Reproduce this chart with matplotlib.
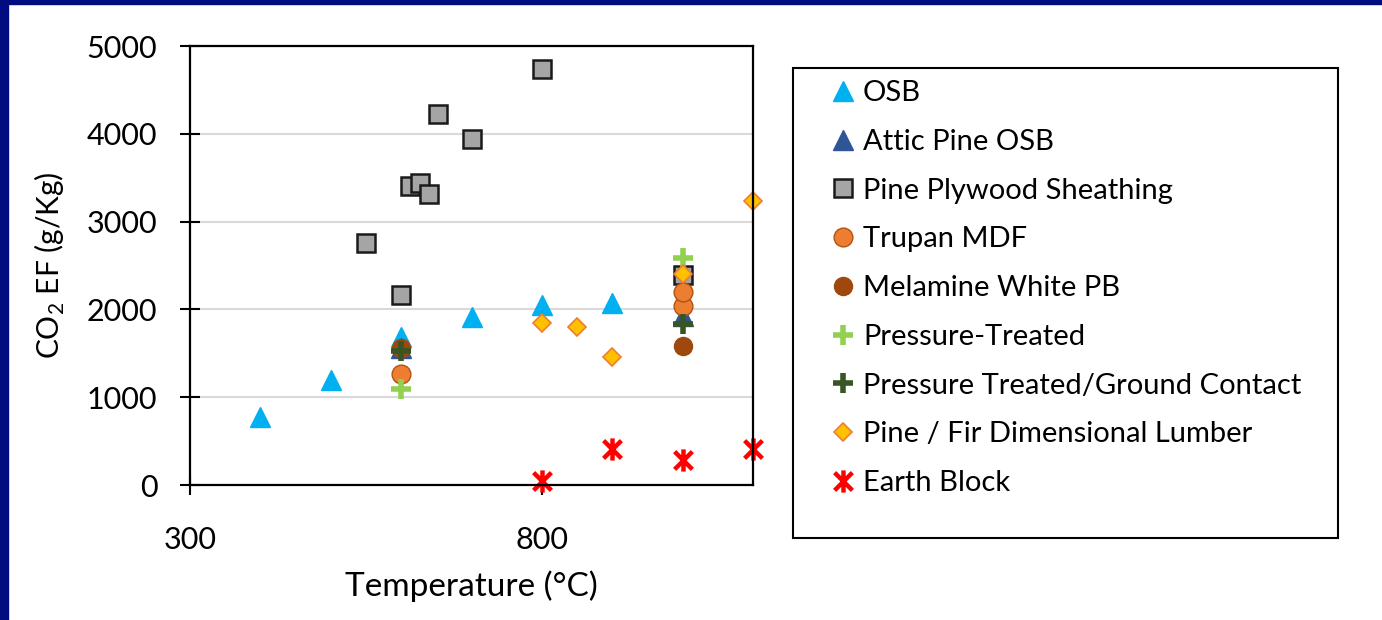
import matplotlib
matplotlib.use("Agg")
import matplotlib.pyplot as plt
from matplotlib.path import Path
from matplotlib.patches import Rectangle

plt.rcParams['font.family'] = ['Lato', 'DejaVu Sans']
plt.rcParams['mathtext.fontset'] = 'custom'
plt.rcParams['mathtext.rm'] = 'Lato'

# data (temperature in C, CO2 EF in g/kg)
osb_x = [400, 500, 600, 700, 800, 900]
osb_y = [780, 1200, 1690, 1915, 2050, 2070]
attic_x = [600, 1000]
attic_y = [1560, 1930]
plywood_x = [550, 600, 612, 627, 640, 653, 700, 800, 1000]
plywood_y = [2760, 2160, 3400, 3440, 3310, 4220, 3940, 4740, 2390]
trupan_x = [600, 1000, 1000]
trupan_y = [1270, 2040, 2200]
melamine_x = [600, 1000]
melamine_y = [1560, 1585]
pt_x = [600, 1000]
pt_y = [1095, 2585]
ptgc_x = [600, 1000]
ptgc_y = [1530, 1835]
lumber_x = [800, 850, 900, 1000, 1100]
lumber_y = [1840, 1800, 1455, 2400, 3230]
earth_x = [800, 900, 1000, 1100]
earth_y = [50, 410, 285, 410]

# excel style star: X with a vertical bar
star = Path([(0, -1), (0, 1), (-0.8, -0.8), (0.8, 0.8), (-0.8, 0.8), (0.8, -0.8)],
            [Path.MOVETO, Path.LINETO] * 3)

fig = plt.figure(figsize=(13.82, 6.2), dpi=100)
ax = fig.add_axes([0.1375, 0.2177, 0.4074, 0.7081])

ax.plot(osb_x, osb_y, ls='none', marker='^', ms=14, color='#00B0F0', label='OSB')
ax.plot(attic_x, attic_y, ls='none', marker='^', ms=14, color='#2F5597', label='Attic Pine OSB')
ax.plot(plywood_x, plywood_y, ls='none', marker='s', ms=13, mfc='#A5A5A5', mec='#1a1a1a', mew=1.8,
        label='Pine Plywood Sheathing')
ax.plot(trupan_x, trupan_y, ls='none', marker='o', ms=13.5, mfc='#ED7D31', mec='#B35210', mew=1.0,
        label='Trupan MDF')
ax.plot(melamine_x, melamine_y, ls='none', marker='o', ms=13, mfc='#9E480E', mec='#9E480E',
        label='Melamine White PB')
ax.plot(pt_x, pt_y, ls='none', marker='+', ms=14, mew=4, color='#92D050', label='Pressure-Treated')
ax.plot(ptgc_x, ptgc_y, ls='none', marker='+', ms=14, mew=4, color='#375623',
        label='Pressure Treated/Ground Contact')
ax.plot(lumber_x, lumber_y, ls='none', marker='D', ms=9, mfc='#FFC000', mec='#ED7D31', mew=1.2,
        label='Pine / Fir Dimensional Lumber')
ax.plot(earth_x, earth_y, ls='none', marker=star, ms=16, mew=3.2, color='#FF0000', label='Earth Block')
for ln in ax.lines:
    ln.set_clip_on(False)

ax.set_xlim(300, 1100)
ax.set_ylim(0, 5000)
ax.set_xticks([300, 800])
ax.set_yticks([0, 1000, 2000, 3000, 4000, 5000])
ax.grid(axis='y', color='#D9D9D9', lw=1.5)
ax.set_axisbelow(True)
for s in ax.spines.values():
    s.set_linewidth(1.6)
    s.set_color('black')
ax.tick_params(direction='inout', length=15, width=1.5, labelsize=22, color='black')
ax.tick_params(axis='x', pad=22)
ax.tick_params(axis='y', pad=16)

ax.set_xlabel('Temperature (°C)', fontsize=24, labelpad=12)
ax.set_ylabel('CO$_\\mathregular{2}$ EF (g/Kg)', fontsize=21.5, labelpad=14)

# legend box
W, H = 1382, 620
fig.patches.append(Rectangle((793 / W, 1 - 538 / H), (1338 - 793) / W, (538 - 68) / H,
                             transform=fig.transFigure, fill=False, ec='black', lw=1.5))
leg = fig.legend(loc='upper left', bbox_to_anchor=(828 / W, 1 - 80 / H), frameon=False,
                 fontsize=21, numpoints=1, handlelength=1.0, handletextpad=0.2,
                 labelspacing=0.78, borderpad=0, borderaxespad=0)

# navy slide border
fig.patches.append(Rectangle((0, 1 - 4 / H), 1, 4 / H, transform=fig.transFigure, color='#000C80'))
fig.patches.append(Rectangle((0, 0), 8 / W, 1, transform=fig.transFigure, color='#000C80'))

fig.savefig('out.png', dpi=100)
